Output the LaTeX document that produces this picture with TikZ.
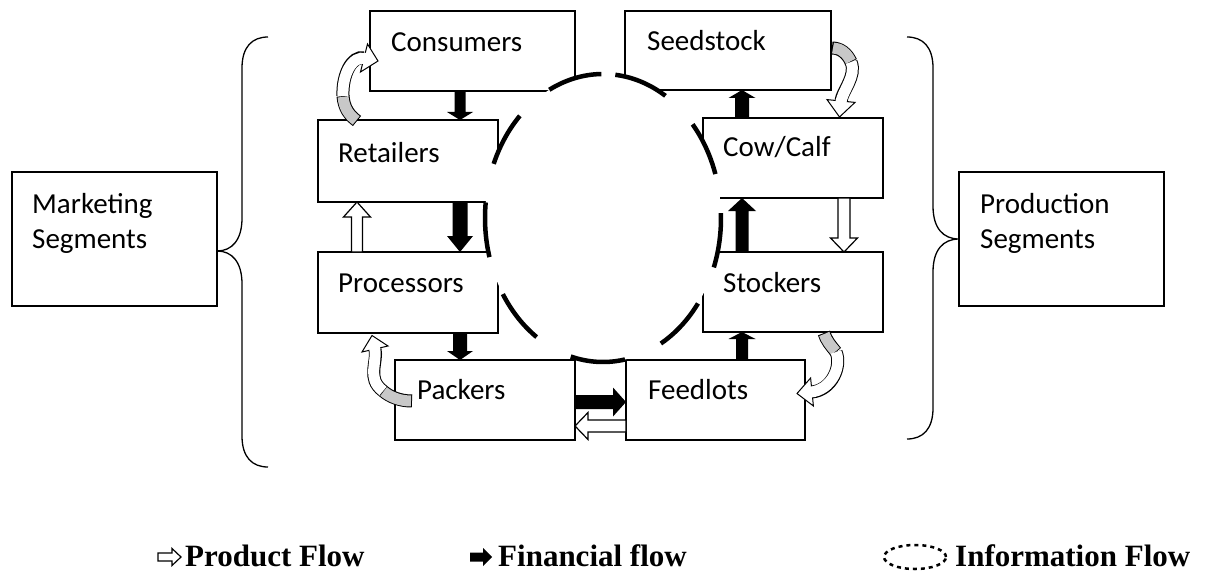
\documentclass[tikz,border=0pt]{standalone}
\usepackage{fontspec}
\setmainfont{Carlito}
\newfontfamily\legfont{Liberation Serif}
\usetikzlibrary{calc,arrows.meta}

% straight block arrow between two named coordinates
\newcommand\blockarr[6]{%
  \coordinate (bah) at ($(#2)!#5!(#1)$);
  \path[#6] ($(#1)!#3!90:(#2)$) -- ($(bah)!#3!90:(#2)$) -- ($(bah)!#4!90:(#2)$) -- (#2)
     -- ($(bah)!#4!-90:(#2)$) -- ($(bah)!#3!-90:(#2)$) -- ($(#1)!#3!-90:(#2)$) -- cycle;}

% curved (twisted) arrow: #1 tail segment (grey), #2 head segment (white), #3 head outline
\newcommand\curvarr[3]{%
  \draw[line width=13pt] #1; \draw[line width=13pt] #2;
  \filldraw[fill=white, line width=1pt, line join=miter] #3 -- cycle;
  \draw[line width=11pt, draw=curvgray, shorten <=1pt, shorten >=0.8pt] #1;
  \draw[line width=11pt, draw=white, shorten >=-2pt] #2;}

\definecolor{curvgray}{RGB}{200,200,200}

\begin{document}
\begin{tikzpicture}[x=1pt, y=-1pt,
  box/.style={draw, line width=1.2pt, fill=white, rectangle, inner sep=0pt, outer sep=0pt, anchor=north west},
  lbl/.style={anchor=base west, inner sep=0pt, font=\fontsize{29}{35}\selectfont},
  leg/.style={anchor=base west, inner sep=0pt, font=\legfont\bfseries\fontsize{31}{37}\selectfont},
  finarr/.style={fill=black},
  prodarr/.style={fill=white, draw=black, line width=1.2pt},
  bracestyle/.style={line width=1.3pt}]
\useasboundingbox (0,0) rectangle (1207,575);

% ---- boxes
\node[box, minimum width=205pt, minimum height=80pt] (cons)  at (370,11) {};
\node[box, minimum width=206pt, minimum height=79pt] (seed)  at (625,11) {};
\node[box, minimum width=180pt, minimum height=82pt] (ret)   at (318,120) {};
\node[box, minimum width=180pt, minimum height=80pt] (cow)   at (703,118) {};
\node[box, minimum width=180pt, minimum height=81pt] (proc)  at (318,252) {};
\node[box, minimum width=180pt, minimum height=80pt] (stock) at (703,252) {};
\node[box, minimum width=180pt, minimum height=80pt] (pack)  at (395,360) {};
\node[box, minimum width=179pt, minimum height=80pt] (feed)  at (626,360) {};
\node[box, minimum width=205pt, minimum height=134pt] (mkt)  at (12,172) {};
\node[box, minimum width=205pt, minimum height=134pt] (prod) at (959,172) {};

\node[lbl] (consT)  at (391,52)  {Consumers};
\node[lbl] (seedT)  at (647,51)  {Seedstock};
\node[lbl] (retT)   at (338,162) {Retailers};
\node[lbl] (cowT)   at (723,157) {Cow/Calf};
\node[lbl] (procT)  at (338,292) {Processors};
\node[lbl] (stockT) at (723,292) {Stockers};
\node[lbl] (packT)  at (417,399) {Packers};
\node[lbl] (feedT)  at (648,399) {Feedlots};
\node[lbl] (mktT1)  at (32,213)  {Marketing};
\node[lbl] (mktT2)  at (32,248)  {Segments};
\node[lbl] (prodT1) at (980,213) {Production};
\node[lbl] (prodT2) at (980,248) {Segments};

% ---- braces
\draw[bracestyle] (268,37) .. controls (252,37) and (242,47) .. (242,68) -- (242,218)
   .. controls (242,240) and (232,251) .. (mkt.east |- 0,251)
   .. controls (232,251) and (242,262) .. (242,284) -- (242,436)
   .. controls (242,457) and (252,467) .. (268,467);
\draw[bracestyle] (907,37) .. controls (923,37) and (933,47) .. (933,68) -- (933,206)
   .. controls (933,228) and (943,239) .. (prod.west |- 0,239)
   .. controls (943,239) and (933,250) .. (933,272) -- (933,408)
   .. controls (933,429) and (923,439) .. (907,439);

% ---- information flow ring
\fill[white] plot[domain=-84:276, samples=140, smooth] ({603+118*cos(\x)},{218+144*sin(\x)}) -- cycle;
\draw[line width=4.5pt, dash pattern=on 55pt off 39.5pt]
  plot[domain=-84:276, samples=140, smooth] ({603+118*cos(\x)},{218+144*sin(\x)});

% ---- arrow columns / rows
\coordinate (xL) at (460,0);
\coordinate (xR) at (742,0);
\coordinate (xP1) at (357,0);
\coordinate (xP2) at (844,0);
\coordinate (yF) at (0,402);
\coordinate (yP3) at (0,426);

% financial flow
\coordinate (f1a) at (cons.south -| xL);  \coordinate (f1b) at (ret.north -| xL);
\blockarr{f1a}{f1b}{5.5pt}{13pt}{8pt}{finarr}
\coordinate (f2a) at (ret.south -| xL);   \coordinate (f2b) at (proc.north -| xL);
\blockarr{f2a}{f2b}{7.5pt}{13pt}{16pt}{finarr}
\coordinate (f3a) at (proc.south -| xL);  \coordinate (f3b) at (pack.north -| xL);
\blockarr{f3a}{f3b}{7pt}{13pt}{9pt}{finarr}
\coordinate (f4a) at (pack.east |- yF);   \coordinate (f4b) at (feed.west |- yF);
\blockarr{f4a}{f4b}{7pt}{14.5pt}{13pt}{finarr}
\coordinate (f5a) at (feed.north -| xR);  \coordinate (f5b) at (stock.south -| xR);
\blockarr{f5a}{f5b}{6pt}{13.5pt}{7pt}{finarr}
\coordinate (f6a) at (stock.north -| xR); \coordinate (f6b) at (cow.south -| xR);
\blockarr{f6a}{f6b}{6.5pt}{14pt}{13pt}{finarr}
\coordinate (f7a) at (cow.north -| xR);   \coordinate (f7b) at (seed.south -| xR);
\blockarr{f7a}{f7b}{7pt}{13.5pt}{8pt}{finarr}

% product flow
\coordinate (p1a) at (proc.north -| xP1); \coordinate (p1b) at (ret.south -| xP1);
\blockarr{p1a}{p1b}{5.5pt}{13.5pt}{15pt}{prodarr}
\coordinate (p2a) at (cow.south -| xP2);  \coordinate (p2b) at (stock.north -| xP2);
\blockarr{p2a}{p2b}{6pt}{13.5pt}{14pt}{prodarr}
\coordinate (p3a) at (feed.west |- yP3);  \coordinate (p3b) at (pack.east |- yP3);
\blockarr{p3a}{p3b}{6pt}{13.5pt}{13pt}{prodarr}

% ---- curved arrows
\curvarr{(357,121) .. controls (349,115) and (344,108) .. (343,96)}
        {(343,96) .. controls (342,75) and (352,55) .. (364,58)}
        {(367.5,44) -- (378,61) -- (360.5,72)}
\curvarr{(832,48) .. controls (840,48) and (847,53) .. (851,62)}
        {(851,62) .. controls (857,76) and (842,91) .. (841,101)}
        {(855,102.4) -- (839.5,117) -- (827,99.6)}
\curvarr{(412,401) .. controls (400,401) and (390,397) .. (383,391)}
        {(383,391) .. controls (366,378) and (378,362) .. (375,349)}
        {(388,346) -- (372,335.5) -- (362,352)}
\curvarr{(824,333) .. controls (826,340) and (831,346) .. (836,352)}
        {(836,352) .. controls (842,366) and (832,390) .. (812,392)}
        {(813.4,406) -- (797,393.5) -- (810.6,378)}

% ---- legend
\coordinate (lg1a) at (158,557); \coordinate (lg1b) at (181,557);
\blockarr{lg1a}{lg1b}{4pt}{8.5pt}{9pt}{prodarr}
\node[leg] (legP) at (185,566) {Product Flow};
\coordinate (lg2a) at (470,557); \coordinate (lg2b) at (492,557);
\blockarr{lg2a}{lg2b}{4.5pt}{9pt}{9pt}{finarr}
\node[leg] (legF) at (498,566) {Financial flow};
\draw[line width=2.5pt, dash pattern=on 4pt off 4pt] (915,557) ellipse [x radius=31pt, y radius=12pt];
\node[leg] (legI) at (955,566) {Information Flow};
\end{tikzpicture}
\end{document}
